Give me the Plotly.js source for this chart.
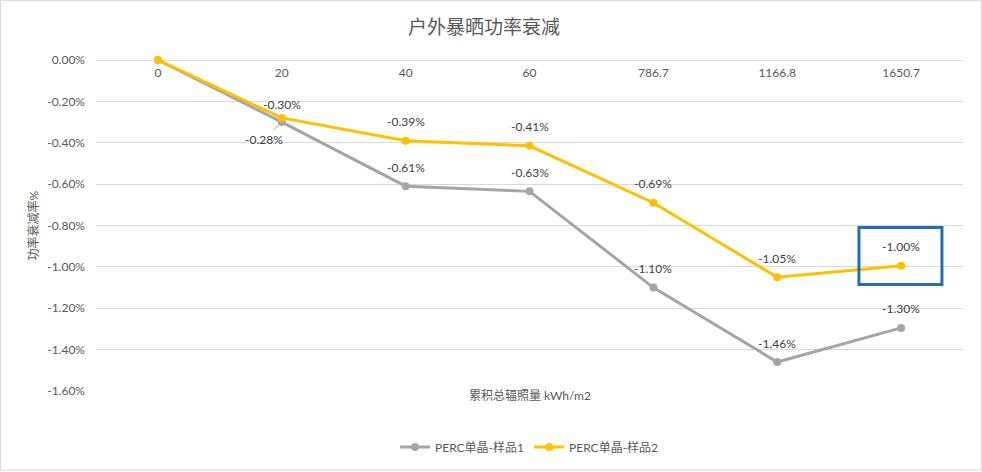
<!DOCTYPE html>
<html>
<head>
<meta charset="utf-8">
<script src="https://cdn.plot.ly/plotly-3.0.1.min.js"></script>
<style>body{margin:0;background:#fff}</style>
</head>
<body>
<div id="graph" style="width:982px;height:472px"></div>
<script>
var categories = ['0', '20', '40', '60', '786.7', '1166.8', '1650.7'];
var sample1 = [0, -0.30, -0.61, -0.635, -1.10, -1.46, -1.295];
var sample2 = [0, -0.28, -0.39, -0.415, -0.69, -1.05, -0.995];
// labels as printed on the chart
var labels1 = ['', '-0.28%', '-0.61%', '-0.63%', '-1.10%', '-1.46%', '-1.30%'];
var labels2 = ['', '-0.30%', '-0.39%', '-0.41%', '-0.69%', '-1.05%', '-1.00%'];
var yTicks = [0, -0.2, -0.4, -0.6, -0.8, -1.0, -1.2, -1.4, -1.6];

var W = 982, H = 472, L = 96, R = 19, T = 60, B = 80;
var pw = W - L - R, ph = H - T - B;
var font = 'Lato, "Noto Sans CJK SC", sans-serif';

function main() {
    var xs = categories.map((c, i) => i);
    var trace1 = {
        x: xs, y: sample1, name: 'PERC单晶-样品1',
        type: 'scatter', mode: 'lines+markers', cliponaxis: false,
        line: {color: '#a5a5a5', width: 3},
        marker: {color: '#a5a5a5', size: 8}
    };
    var trace2 = {
        x: xs, y: sample2, name: 'PERC单晶-样品2',
        type: 'scatter', mode: 'lines+markers', cliponaxis: false,
        line: {color: '#ffc000', width: 3},
        marker: {color: '#ffc000', size: 8}
    };

    var lab = {size: 12, color: '#404040', family: font};
    var annotations = [];
    for (let i = 1; i < xs.length; i++) {
        if (i == 1) {
            annotations.push({x: xs[i], y: sample1[i], text: labels1[i],
                showarrow: true, arrowhead: 0, arrowwidth: 1, arrowcolor: '#a5a5a5',
                ax: -18, ay: 17, font: lab});
        } else {
            annotations.push({x: xs[i], y: sample1[i], text: labels1[i],
                showarrow: false, yshift: 19, font: lab});
        }
        annotations.push({x: xs[i], y: sample2[i], text: labels2[i],
            showarrow: false, yshift: i == 1 ? 13 : 19, font: lab});
    }
    annotations.push({xref: 'paper', yref: 'paper', x: 0.5, y: -0.015, yanchor: 'middle',
        text: '累积总辐照量 kWh/m2', showarrow: false,
        font: {size: 12, color: '#595959', family: font}});
    annotations.push({xref: 'paper', yref: 'paper', x: (33 - L) / pw, xanchor: 'center',
        y: 0.5, yanchor: 'middle',
        text: '功率衰减率%', textangle: -90, showarrow: false,
        font: {size: 12, color: '#595959', family: font}});

    var layout = {
        width: W, height: H,
        margin: {l: L, r: R, t: T, b: B},
        paper_bgcolor: '#fff', plot_bgcolor: '#fff',
        font: {family: font, size: 12, color: '#595959'},
        title: {text: '户外暴晒功率衰减', x: 0.493, xanchor: 'center',
                y: 1 - 27 / H, yanchor: 'middle',
                font: {size: 19, color: '#595959', family: font}},
        xaxis: {type: 'linear', range: [-0.5, 6.5], tickvals: xs, ticktext: categories,
                side: 'bottom', anchor: 'free', position: 1,
                showgrid: false, showline: false, zeroline: false, ticks: '',
                ticklabelstandoff: 4,
                tickfont: {size: 12, color: '#595959'}, fixedrange: true},
        yaxis: {range: [-1.6, 0], tickvals: yTicks,
                ticktext: yTicks.map(v => (v == 0 ? '0.00' : '-' + Math.abs(v).toFixed(2)) + '%'),
                showgrid: true, gridcolor: '#d9d9d9', gridwidth: 1,
                zeroline: true, zerolinecolor: '#d9d9d9', showline: false,
                ticks: '', ticklabelstandoff: 10,
                tickfont: {size: 12, color: '#595959'}, fixedrange: true},
        showlegend: true,
        legend: {orientation: 'h', x: 0.5, xanchor: 'center', y: -55 / ph, yanchor: 'middle',
                 font: {size: 12, color: '#595959'}},
        annotations: annotations,
        shapes: [
            {type: 'rect', xref: 'x', yref: 'y', x0: 5.66, x1: 6.33, y0: -0.81, y1: -1.085,
             line: {color: '#1f6fb4', width: 3}},
            {type: 'rect', xref: 'paper', yref: 'paper',
             x0: (0.5 - L) / pw, x1: (W - 0.5 - L) / pw,
             y0: (ph - (H - T - 0.5)) / ph, y1: (ph + T - 0.5) / ph,
             line: {color: '#d9d9d9', width: 1}}
        ]
    };
    Plotly.newPlot('graph', [trace1, trace2], layout, {displayModeBar: false});
}
document.addEventListener('DOMContentLoaded', main, false);
</script>
</body>
</html>
